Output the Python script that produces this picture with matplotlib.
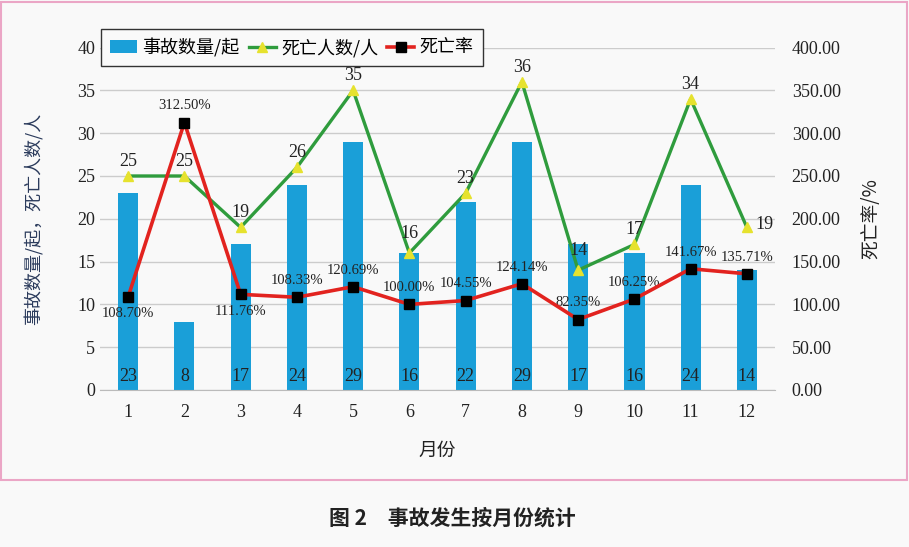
import matplotlib

matplotlib.use("Agg")
import matplotlib.pyplot as plt
from matplotlib.lines import Line2D
from matplotlib.patches import Patch, Rectangle

plt.rcParams["font.family"] = ["Liberation Serif", "Noto Sans CJK SC"]

months = ["1", "2", "3", "4", "5", "6", "7", "8", "9", "10", "11", "12"]
accidents = [23, 8, 17, 24, 29, 16, 22, 29, 17, 16, 24, 14]
deaths = [25, 25, 19, 26, 35, 16, 23, 36, 14, 17, 34, 19]
rate = [108.70, 312.50, 111.76, 108.33, 120.69, 100.00, 104.55, 124.14, 82.35, 106.25, 141.67, 135.71]
left_ticks = [0, 5, 10, 15, 20, 25, 30, 35, 40]
right_ticks = [0, 50, 100, 150, 200, 250, 300, 350, 400]

BLUE = "#1a9fd8"
GREEN = "#2f9c3d"
YELLOW = "#e6e22e"
RED = "#e2231f"
BG = "#f9f9f9"
CJK = ["Noto Sans CJK SC", "DejaVu Sans"]

fig = plt.figure(figsize=(9.09, 5.47), dpi=100, facecolor=BG)
ax = fig.add_axes([100 / 909, 1 - 390 / 547, 675 / 909, (390 - 47.6) / 547])
ax.set_facecolor(BG)
x = list(range(1, len(months) + 1))

ax.bar(x, accidents, width=0.36, color=BLUE, zorder=2)
ax.plot(x, deaths, color=GREEN, lw=2.4, marker="^", ms=7, mfc=YELLOW, mec=YELLOW, zorder=3)
for xi, v in zip(x, accidents):
    ax.text(xi, 1.6, str(v), ha="center", va="center", fontsize=13, color="#222222", zorder=4)
for i, (xi, v) in enumerate(zip(x, deaths)):
    if i == 11:
        ax.annotate(str(v), (xi, v), xytext=(13, 2), textcoords="offset points",
                    ha="center", va="center", fontsize=13, color="#222222")
    else:
        dy = 14 if i in (5, 8) else 10.5
        ax.annotate(str(v), (xi, v), xytext=(0, dy), textcoords="offset points",
                    ha="center", va="center", fontsize=13, color="#222222")

ax.set_xlim(0.5, 12.5)
ax.set_ylim(0, 40)
ax.set_xticks(x)
ax.set_xticklabels(months)
ax.set_yticks(left_ticks)
ax.grid(axis="y", color="#cccccc", lw=1, zorder=0)
ax.tick_params(axis="both", length=0, labelsize=13, colors="#222222")
ax.tick_params(axis="x", pad=10)
for s in ["top", "left", "right"]:
    ax.spines[s].set_visible(False)
ax.spines["bottom"].set_color("#bbbbbb")
ax.set_xlabel("月份", family=CJK, fontsize=13.5, labelpad=14, color="#222222")
ax.set_ylabel("事故数量/起，死亡人数/人", family=CJK, fontsize=13, color="#2b3b5c", labelpad=24)

ax2 = ax.twinx()
ax2.plot(x, rate, color=RED, lw=2.6, marker="s", ms=7, mfc="black", mec="black", zorder=5)
for i, (xi, v) in enumerate(zip(x, rate)):
    dy = -12 if i in (0, 2) else 12
    ax2.annotate(f"{v:.2f}%", (xi, v), xytext=(0, dy), textcoords="offset points",
                 ha="center", va="center", fontsize=10.5, color="#222222")
ax2.set_ylim(0, 400)
ax2.set_yticks(right_ticks)
ax2.set_yticklabels([f"{t:.2f}" for t in right_ticks])
ax2.tick_params(axis="y", length=0, labelsize=13, colors="#222222", pad=12)
for s in ax2.spines.values():
    s.set_visible(False)
ax2.set_ylabel("死亡率/%", family=CJK, fontsize=13.5, color="#222222", labelpad=14)

handles = [
    Patch(facecolor=BLUE),
    Line2D([], [], color=GREEN, lw=2.4, marker="^", ms=7, mfc=YELLOW, mec=YELLOW),
    Line2D([], [], color=RED, lw=2.6, marker="s", ms=7, mfc="black", mec="black"),
]
leg = ax2.legend(handles, ["事故数量/起", "死亡人数/人", "死亡率"], ncol=3,
                 loc="upper left", bbox_to_anchor=(101 / 909, 1 - 29 / 547),
                 bbox_transform=fig.transFigure, borderaxespad=0, frameon=True,
                 fancybox=False, prop={"family": CJK, "size": 13}, borderpad=0.5,
                 handlelength=1.5, handletextpad=0.3, columnspacing=0.5)
leg.get_frame().set_edgecolor("#333333")
leg.get_frame().set_facecolor(BG)
leg.get_frame().set_alpha(1)

fig.patches.append(Rectangle((1 / 909, 1 - 480 / 547), 906 / 909, 478 / 547,
                             transform=fig.transFigure, fill=False,
                             edgecolor="#eba6c6", lw=1.5))
fig.text(452 / 909, 1 - 518 / 547, "图 2　事故发生按月份统计", family=CJK,
         fontsize=15, fontweight="bold", ha="center", va="center", color="#222222")

fig.savefig("out.png", dpi=100, facecolor=BG)
